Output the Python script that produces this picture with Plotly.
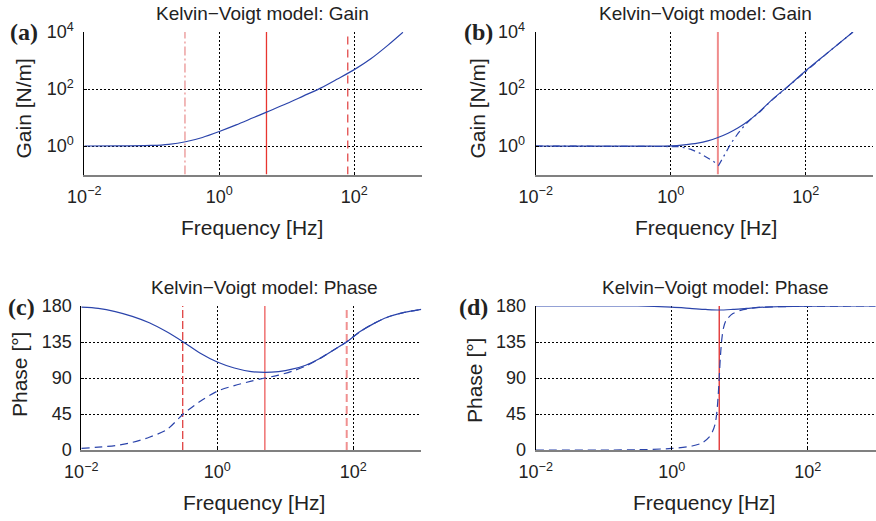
import plotly.graph_objects as go

# ---------------- data ----------------
# frequencies given as log10(Hz)
a_logf = [-2.0, -1.5, -1.0, -0.75, -0.5, -0.25, 0.0, 0.25, 0.5, 0.7, 1.0, 1.25, 1.5, 1.75, 2.0, 2.25, 2.5, 2.72]
a_logG = [0.0, 0.003, 0.02, 0.06, 0.15, 0.30, 0.51, 0.74, 0.99, 1.19, 1.49, 1.76, 2.03, 2.35, 2.68, 3.07, 3.54, 3.99]

b_solid_logf = [-2.0, 0.0, 0.2, 0.4, 0.55, 0.7, 0.85, 1.0, 1.15, 1.3, 1.5, 1.75, 2.0, 2.35, 2.7]
b_solid_logG = [0.0, 0.005, 0.04, 0.10, 0.18, 0.30, 0.45, 0.64, 0.88, 1.17, 1.62, 2.12, 2.64, 3.32, 4.0]
b_dd_logf = [-2.0, 0.0, 0.1, 0.2, 0.3, 0.43, 0.55, 0.64, 0.71, 0.8, 0.9, 1.0, 1.1, 1.2, 1.3, 1.5, 1.75, 2.0, 2.35, 2.7]
b_dd_logG = [0.0, 0.0, -0.02, -0.06, -0.12, -0.25, -0.42, -0.55, -0.68, -0.28, 0.12, 0.45, 0.74, 0.97, 1.15, 1.61, 2.12, 2.64, 3.32, 4.0]

c_logf = [-2.0, -1.75, -1.5, -1.25, -1.0, -0.75, -0.5, -0.25, 0.0, 0.25, 0.5, 0.7, 0.9, 1.1, 1.3, 1.5, 1.7, 1.9, 2.1, 2.3, 2.5, 2.75, 3.0]
c_solid_deg = [178.5, 177, 173, 167, 159, 148, 135, 121, 110, 102.5, 98, 97, 98, 101, 106, 114, 124.5, 135, 148, 158, 166, 172, 175.8]
c_dash_deg = [2, 3.5, 5.5, 9.5, 16, 25, 45, 61, 73.5, 80.5, 86, 90, 93.5, 98.5, 105, 114, 124.5, 135, 148, 158, 166, 172, 175.8]

d_solid_logf = [-2.0, -0.5, 0.0, 0.3, 0.5, 0.7, 0.9, 1.1, 1.4, 2.0, 3.0]
d_solid_deg = [180, 180, 178.5, 176.8, 175.7, 175, 175.8, 177, 178.7, 179.7, 180]
d_dash_logf = [-2.0, -0.5, 0.0, 0.3, 0.45, 0.55, 0.6, 0.64, 0.665, 0.685, 0.70, 0.715, 0.735, 0.76, 0.8, 0.9, 1.05, 1.3, 2.0, 3.0]
d_dash_deg = [0, 0.3, 2, 5, 9, 16, 23, 33, 48, 70, 92, 115, 137, 152, 162, 170.5, 175.5, 178.3, 179.7, 180]

# characteristic frequencies marked by the red lines [Hz]
f_damp = 0.31
f_nat = 5.0
f_mass = 80.0

freq_tickvals = [0.01, 1, 100]
freq_ticktext = ["10<sup>\u22122</sup>", "10<sup>0</sup>", "10<sup>2</sup>"]
gain_tickvals = [1, 100, 10000]
gain_ticktext = ["10<sup>0</sup>", "10<sup>2</sup>", "10<sup>4</sup>"]
phase_ticks = [0, 45, 90, 135, 180]

x_label = "Frequency [Hz]"
gain_label = "Gain [N/m]"
phase_label = "Phase [°]"
gain_title = "Kelvin\u2212Voigt model: Gain"
phase_title = "Kelvin\u2212Voigt model: Phase"
panel_tags = ["(a)", "(b)", "(c)", "(d)"]

W, H = 876, 521
BLUE = "#2b44ab"

def hz(lf):
    return [10 ** v for v in lf]

fig = go.Figure()

def curve(xax, yax, lf, vals, dash="solid", logv=False, shape="spline"):
    y = [10 ** v for v in vals] if logv else vals
    fig.add_trace(go.Scatter(x=hz(lf), y=y, mode="lines", xaxis=xax, yaxis=yax,
                             line=dict(color=BLUE, width=1.2, dash=dash, shape=shape, smoothing=0.8),
                             showlegend=False, hoverinfo="skip"))

def vline(xax, yax, f, ylo, yhi, color, dash="solid", width=1.3):
    fig.add_trace(go.Scatter(x=[f, f], y=[ylo, yhi], mode="lines", xaxis=xax, yaxis=yax,
                             line=dict(color=color, width=width, dash=dash),
                             showlegend=False, hoverinfo="skip"))

# (a)
vline("x", "y", f_damp, 0.1, 1e4, "#e88a8a", "9px,3px,2px,3px", 1.2)
vline("x", "y", f_nat, 0.1, 1e4, "#e8352f", "solid", 1.3)
vline("x", "y", f_mass, 0.1, 1e4, "#e24a4a", "8px,5px", 1.3)
curve("x", "y", a_logf, a_logG, logv=True)
# (b)
vline("x2", "y2", f_nat, 0.1, 1e4, "#f08c8c", "solid", 2.0)
curve("x2", "y2", b_dd_logf, b_dd_logG, dash="7px,4px,2px,4px", logv=True, shape="linear")
curve("x2", "y2", b_solid_logf, b_solid_logG, logv=True)
# (c)
vline("x3", "y3", f_damp, 0, 180, "#e04040", "8px,3px", 1.3)
vline("x3", "y3", f_nat, 0, 180, "#f07a7a", "solid", 1.6)
vline("x3", "y3", f_mass, 0, 180, "#f09090", "8px,4px", 2.0)
curve("x3", "y3", c_logf, c_dash_deg, dash="8px,5px")
curve("x3", "y3", c_logf, c_solid_deg)
# (d)
vline("x4", "y4", f_nat, 0, 180, "#e02a2a", "solid", 1.3)
curve("x4", "y4", d_dash_logf, d_dash_deg, dash="8px,5px")
curve("x4", "y4", d_solid_logf, d_solid_deg)

TICKFONT = dict(family="Liberation Sans, Arial, sans-serif", size=18, color="#222")
GRID = dict(showgrid=True, gridcolor="black", griddash="2px,2px", gridwidth=1,
            ticks="inside", ticklen=3, tickcolor="black", tickfont=TICKFONT,
            zeroline=False, fixedrange=True, showline=True, automargin=False)

def xaxis(dom, anchor):
    return dict(domain=dom, anchor=anchor, type="log", range=[-2, 3],
                tickvals=freq_tickvals, ticktext=freq_ticktext,
                linecolor="#808080", linewidth=1.6, ticklabelstandoff=5, **GRID)

def yaxis_gain(dom, anchor):
    return dict(domain=dom, anchor=anchor, type="log", range=[-1, 4],
                tickvals=gain_tickvals, ticktext=gain_ticktext,
                linecolor="black", linewidth=1, ticklabelstandoff=6, **GRID)

def yaxis_phase(dom, anchor):
    return dict(domain=dom, anchor=anchor, range=[0, 180], tickvals=phase_ticks,
                linecolor="black", linewidth=1, ticklabelstandoff=5, **GRID)

def px_x(p):
    return p / W

def px_y(p):
    return 1 - p / H

top_dom = [px_y(174.5), px_y(32)]
bot_dom = [px_y(450), px_y(306)]

fig.update_layout(
    template="none",
    width=W, height=H, margin=dict(l=0, r=0, t=0, b=0, autoexpand=False),
    paper_bgcolor="white", plot_bgcolor="white",
    xaxis=xaxis([px_x(84.3), px_x(421.8)], "y"),
    yaxis=yaxis_gain(top_dom, "x"),
    xaxis2=xaxis([px_x(535.7), px_x(873.2)], "y2"),
    yaxis2=yaxis_gain(top_dom, "x2"),
    xaxis3=xaxis([px_x(81.3), px_x(421.3)], "y3"),
    yaxis3=yaxis_phase(bot_dom, "x3"),
    xaxis4=xaxis([px_x(535.7), px_x(875.7)], "y4"),
    yaxis4=yaxis_phase(bot_dom, "x4"),
)

TXT = "Liberation Sans, Arial, sans-serif"
anns = []
def ann(text, x, y, size, family=TXT, angle=0, bold=False):
    anns.append(dict(text=("<b>%s</b>" % text) if bold else text, x=px_x(x), y=px_y(y),
                     xref="paper", yref="paper", showarrow=False, textangle=angle,
                     xanchor="center", yanchor="middle",
                     font=dict(family=family, size=size, color="#222")))

ann(gain_title, 262, 13, 19)
ann(gain_title, 705, 13, 19)
ann(phase_title, 264, 287, 19)
ann(phase_title, 715, 287, 19)
ann(gain_label, 23, 108.5, 21, angle=-90)
ann(gain_label, 477, 108.5, 21, angle=-90)
ann(phase_label, 19, 375, 21, angle=-90)
ann(phase_label, 474, 381, 21, angle=-90)
ann(x_label, 252, 227, 21)
ann(x_label, 706, 227, 21)
ann(x_label, 254.5, 502, 21)
ann(x_label, 704, 502, 21)
SERIF = "Liberation Serif, Times New Roman, serif"
ann(panel_tags[0], 24, 32.5, 24, family=SERIF, bold=True)
ann(panel_tags[1], 478, 32.5, 24, family=SERIF, bold=True)
ann(panel_tags[2], 21, 306.5, 24, family=SERIF, bold=True)
ann(panel_tags[3], 473, 306.5, 24, family=SERIF, bold=True)
fig.update_layout(annotations=anns)

fig.write_html("out.html", post_script="document.body.style.margin='0';")
